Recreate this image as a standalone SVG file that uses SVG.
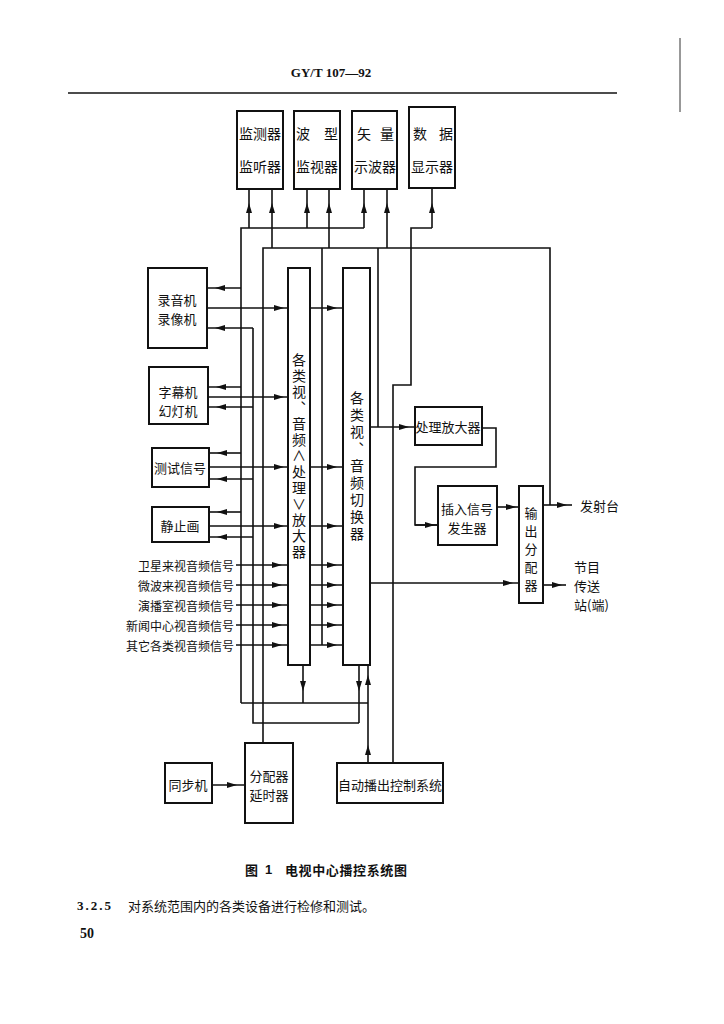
<svg xmlns="http://www.w3.org/2000/svg" width="724" height="1024" viewBox="0 0 724 1024">
<style>
.b{fill:#fff;stroke:#111;stroke-width:2}
.l{fill:none;stroke:#111;stroke-width:1.6}
.a{fill:none;stroke:#111;stroke-width:1.6;marker-mid:url(#ah)}
.t{font-family:"Noto Sans CJK SC","Noto Sans CJK JP",sans-serif;font-size:13px;fill:#111;dominant-baseline:central;text-anchor:middle}
.s{font-family:"Noto Sans CJK SC","Noto Sans CJK JP",sans-serif;font-size:12px;fill:#111;dominant-baseline:central;text-anchor:end}
.v{font-family:"Noto Sans CJK SC","Noto Sans CJK JP",sans-serif;font-size:14px;fill:#111;dominant-baseline:central;text-anchor:middle}
.vt{font-family:"Noto Sans CJK SC","Noto Sans CJK JP",sans-serif;font-size:14px;fill:#111;writing-mode:vertical-rl;text-orientation:upright;text-anchor:start}
</style>
<defs>
<marker id="ah" markerUnits="userSpaceOnUse" markerWidth="10" markerHeight="7" refX="5" refY="3" orient="auto" viewBox="0 0 10 6"><path d="M0,0 L10,3 L0,6 z" fill="#111"/></marker>
</defs>
<rect width="724" height="1024" fill="#fff"/>
<g id="header">
<text x="331" y="72" style="font-family:'Liberation Serif',serif;font-size:13px;font-weight:bold;fill:#111;text-anchor:middle;dominant-baseline:central">GY/T 107—92</text>
<path d="M68,93 H617" stroke="#111" stroke-width="1.5"/>
<path d="M680,38 V112" stroke="#333" stroke-width="1"/>
</g>
<g id="connectors">
<path class="l" d="M241,703 V228 H364"/>
<path class="l" d="M263,743 V248 H550 V505"/>
<path class="l" d="M253,328 V723 H359"/>
<path class="l" d="M241,703 H368"/>
<path class="l" d="M432,228 H411 V385 H393 V763"/>
<path class="l" d="M322,248 V645"/>
<path class="l" d="M378,248 V427"/>
<path class="l" d="M482,428 H496 V467 H415 V525 H438"/>
<path class="a" d="M249,228 V208 V189"/>
<path class="a" d="M307,228 V208 V189"/>
<path class="a" d="M364,228 V208 V189"/>
<path class="a" d="M272,248 V208 V189"/>
<path class="a" d="M329,248 V208 V189"/>
<path class="a" d="M387,248 V208 V189"/>
<path class="a" d="M432,228 V208 V189"/>
<path class="a" d="M241,288 H220 H207"/>
<path class="a" d="M207,308 H279 H288"/>
<path class="a" d="M253,328 H220 H207"/>
<path class="a" d="M241,387 H221 H208"/>
<path class="a" d="M208,397 H279 H288"/>
<path class="a" d="M253,407 H221 H208"/>
<path class="a" d="M241,453 H222 H209"/>
<path class="a" d="M209,467 H279 H288"/>
<path class="a" d="M253,479 H222 H209"/>
<path class="a" d="M241,512 H222 H209"/>
<path class="a" d="M209,526 H279 H288"/>
<path class="a" d="M253,537 H222 H209"/>
<path class="a" d="M236,565 H277 H288"/>
<path class="a" d="M236,585 H277 H288"/>
<path class="a" d="M236,605 H277 H288"/>
<path class="a" d="M236,625 H277 H288"/>
<path class="a" d="M236,645 H277 H288"/>
<path class="a" d="M310,308 H332 H343"/>
<path class="a" d="M310,467 H332 H343"/>
<path class="a" d="M310,526 H332 H343"/>
<path class="a" d="M310,565 H332 H343"/>
<path class="a" d="M310,585 H332 H343"/>
<path class="a" d="M310,605 H332 H343"/>
<path class="a" d="M310,625 H332 H343"/>
<path class="a" d="M310,645 H332 H343"/>
<path class="a" d="M370,427 H404 H415"/>
<path class="a" d="M415,525 H430 H438"/>
<path class="a" d="M497,507 H511 H519"/>
<path class="a" d="M370,583 H508 H519"/>
<path class="a" d="M543,505 H562 H572"/>
<path class="a" d="M543,585 H557 H566"/>
<path class="a" d="M212,785 H232 H245"/>
<path class="a" d="M303,665 V686 V703"/>
<path class="a" d="M359,665 V686 V723"/>
<path class="a" d="M368,763 V750 V680 V665"/>
</g>
<g id="mon1"><rect class="b" x="237" y="111" width="46" height="78"/><text class="v" x="260" y="133">监测器</text><text class="v" x="260" y="166">监听器</text></g>
<g id="mon2"><rect class="b" x="294" y="111" width="46" height="78"/><text class="v" y="133"><tspan x="303">波</tspan><tspan x="331">型</tspan></text><text class="v" x="317" y="166">监视器</text></g>
<g id="mon3"><rect class="b" x="352" y="111" width="45" height="78"/><text class="v" y="133"><tspan x="364">矢</tspan><tspan x="387">量</tspan></text><text class="v" x="375" y="166">示波器</text></g>
<g id="mon4"><rect class="b" x="409" y="107" width="46" height="81"/><text class="v" y="133"><tspan x="420">数</tspan><tspan x="446">据</tspan></text><text class="v" x="432" y="166">显示器</text></g>
<g id="recorder"><rect class="b" x="148" y="268" width="59" height="80"/><text class="t" x="177" y="299">录音机</text><text class="t" x="177" y="318">录像机</text></g>
<g id="caption-gen"><rect class="b" x="149" y="367" width="59" height="57"/><text class="t" x="178" y="391">字幕机</text><text class="t" x="178" y="410">幻灯机</text></g>
<g id="test-signal"><rect class="b" x="152" y="448" width="57" height="39"/><text class="t" x="180" y="467">测试信号</text></g>
<g id="still"><rect class="b" x="152" y="507" width="57" height="35"/><text class="t" x="180" y="525">静止画</text></g>
<g id="inputs">
<text class="s" x="234" y="565">卫星来视音频信号</text>
<text class="s" x="234" y="585">微波来视音频信号</text>
<text class="s" x="234" y="605">演播室视音频信号</text>
<text class="s" x="234" y="625">新闻中心视音频信号</text>
<text class="s" x="234" y="645">其它各类视音频信号</text>
</g>
<g id="processor"><rect class="b" x="288" y="268" width="22" height="397"/>
<text class="vt" x="299" y="353" style="letter-spacing:2px">各类视、音频∧处理∨放大器</text></g>
<g id="switcher"><rect class="b" x="343" y="268" width="27" height="397"/>
<text class="vt" x="357" y="391" style="letter-spacing:3px">各类视、音频切换器</text></g>
<g id="proc-amp"><rect class="b" x="415" y="407" width="67" height="38"/><text class="t" x="448" y="426">处理放大器</text></g>
<g id="inserter"><rect class="b" x="438" y="486" width="59" height="59"/><text class="t" x="467" y="508">插入信号</text><text class="t" x="467" y="527">发生器</text></g>
<g id="out-dist"><rect class="b" x="519" y="486" width="24" height="117"/>
<text class="vt" x="531" y="507" style="font-size:13px;letter-spacing:5px">输出分配器</text></g>
<g id="transmitter"><text class="t" x="580" y="505" style="text-anchor:start">发射台</text></g>
<g id="relay"><text class="t" x="574" y="566" style="text-anchor:start">节目</text><text class="t" x="574" y="585" style="text-anchor:start">传送</text><text class="t" x="574" y="604" style="text-anchor:start">站(端)</text></g>
<g id="sync"><rect class="b" x="165" y="763" width="47" height="40"/><text class="t" x="188" y="784">同步机</text></g>
<g id="dist-delay"><rect class="b" x="245" y="743" width="48" height="80"/><text class="t" x="269" y="775">分配器</text><text class="t" x="269" y="794">延时器</text></g>
<g id="auto"><rect class="b" x="337" y="763" width="106" height="40"/><text class="t" x="390" y="784">自动播出控制系统</text></g>
<g id="caption">
<text x="245" y="869" style="font-family:'Noto Sans CJK SC',sans-serif;font-size:13px;font-weight:bold;fill:#111;dominant-baseline:central">图</text>
<text x="265" y="869" style="font-family:'Liberation Sans',sans-serif;font-size:13px;font-weight:bold;fill:#111;dominant-baseline:central">1</text>
<text x="285" y="869" textLength="122" style="font-family:'Noto Sans CJK SC',sans-serif;font-size:13px;font-weight:bold;fill:#111;dominant-baseline:central">电视中心播控系统图</text>
<text x="77" y="905" style="font-family:'Liberation Serif',serif;font-size:13px;font-weight:bold;letter-spacing:2px;fill:#111;dominant-baseline:central">3.2.5</text>
<text x="128" y="905" style="font-family:'Noto Sans CJK SC',sans-serif;font-size:13px;fill:#111;dominant-baseline:central">对系统范围内的各类设备进行检修和测试。</text>
<text x="80" y="933" style="font-family:'Liberation Serif',serif;font-size:14px;font-weight:bold;fill:#111;dominant-baseline:central">50</text>
</g>
</svg>
